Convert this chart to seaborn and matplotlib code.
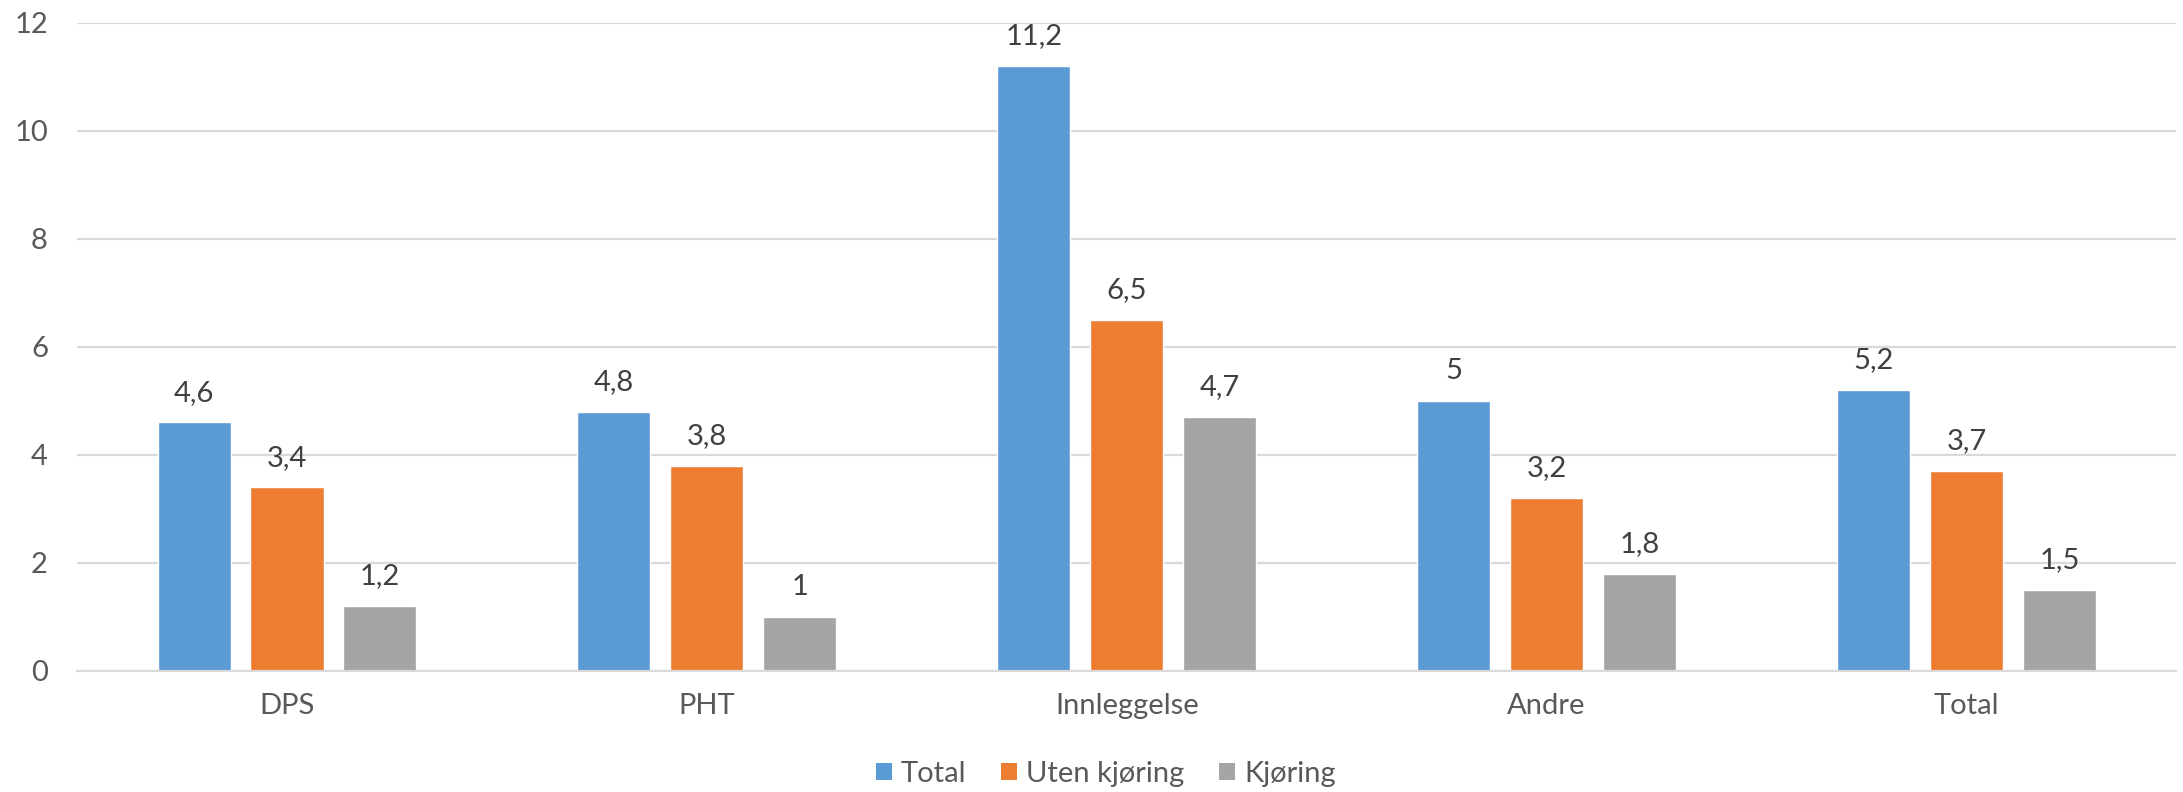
import matplotlib
matplotlib.use("Agg")
import matplotlib.pyplot as plt
import seaborn as sns
import pandas as pd
from matplotlib.patches import Patch

categories = ["DPS", "PHT", "Innleggelse", "Andre", "Total"]
series_names = ["Total", "Uten kjøring", "Kjøring"]
total_vals = [4.6, 4.8, 11.2, 5.0, 5.2]
uten_vals = [3.4, 3.8, 6.5, 3.2, 3.7]
kjoring_vals = [1.2, 1.0, 4.7, 1.8, 1.5]
yticks = [0, 2, 4, 6, 8, 10, 12]

colors = ["#5B9BD5", "#ED7D31", "#A5A5A5"]

rows = []
for name, vals in zip(series_names, [total_vals, uten_vals, kjoring_vals]):
    for c, v in zip(categories, vals):
        rows.append({"Kategori": c, "Serie": name, "Verdi": v})
df = pd.DataFrame(rows)

sns.set_theme(style="white")
plt.rcParams["font.family"] = ["Lato", "DejaVu Sans"]

fig = plt.figure(figsize=(21.83, 7.92), dpi=100)
ax = fig.add_axes([0.0353, 0.1528, 0.9617, 0.8186])

sns.barplot(data=df, x="Kategori", y="Verdi", hue="Serie", order=categories,
            hue_order=series_names, palette=colors, width=0.664, gap=0.214,
            saturation=1, ax=ax, legend=False, errorbar=None)

def fmt(v):
    s = f"{v:g}"
    return s.replace(".", ",")

for cont, vals in zip(ax.containers, [total_vals, uten_vals, kjoring_vals]):
    ax.bar_label(cont, labels=[fmt(v) for v in vals], padding=12,
                 fontsize=21, color="#404040")

ax.set_ylim(0, 12)
ax.set_xlim(-0.5, len(categories) - 0.5)
ax.set_yticks(yticks)
ax.set_yticklabels([str(t) for t in yticks])
ax.yaxis.grid(True, color="#D9D9D9", linewidth=1.6)
ax.set_axisbelow(True)
for s in ["top", "right", "left"]:
    ax.spines[s].set_visible(False)
ax.spines["bottom"].set_color("#D9D9D9")
ax.spines["bottom"].set_linewidth(1.6)
ax.tick_params(axis="y", labelsize=21, labelcolor="#595959", length=0, pad=21)
ax.tick_params(axis="x", labelsize=21, labelcolor="#595959", length=0, pad=16)
ax.set_xlabel("")
ax.set_ylabel("")

handles = [Patch(facecolor=c, edgecolor="none") for c in colors]
fig.legend(handles, series_names, loc="center", bbox_to_anchor=(0.5065, 0.023),
           ncol=3, frameon=False, fontsize=21, labelcolor="#595959",
           handlelength=0.55, handleheight=0.55, handletextpad=0.3, columnspacing=1.2)

fig.savefig("out.png", dpi=100, facecolor="white")
